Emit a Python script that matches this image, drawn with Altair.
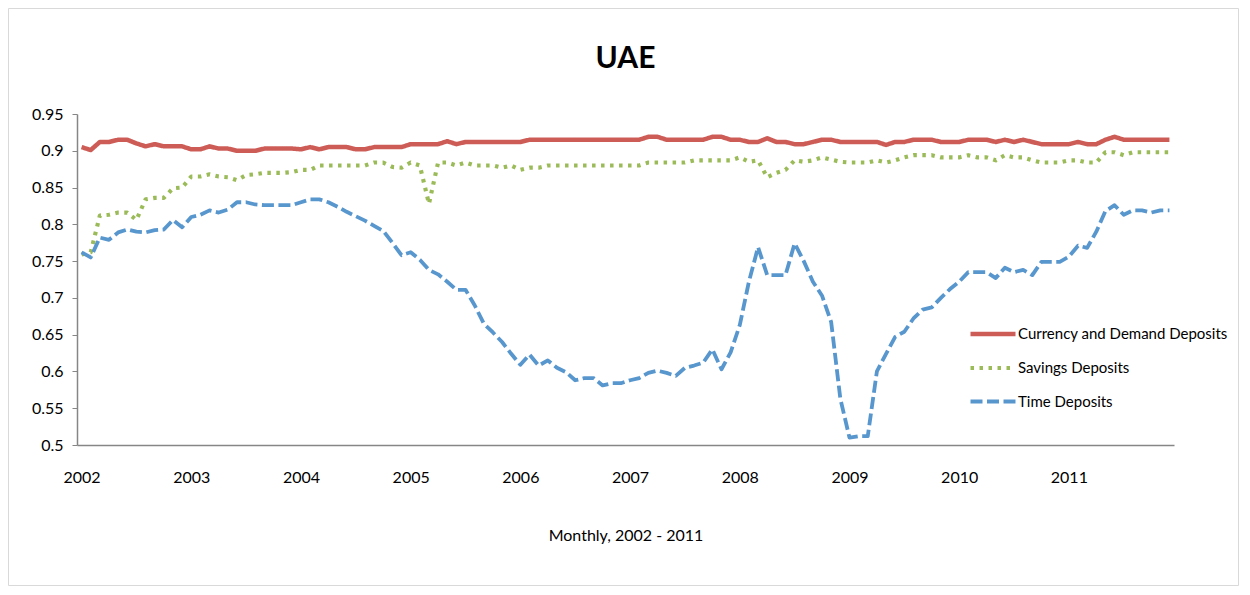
import altair as alt
import pandas as pd

series_names = ["Currency and Demand Deposits", "Savings Deposits", "Time Deposits"]
year_labels = ["2002", "2003", "2004", "2005", "2006", "2007", "2008", "2009", "2010", "2011"]
y_ticks = [0.5, 0.55, 0.6, 0.65, 0.7, 0.75, 0.8, 0.85, 0.9, 0.95]

currency = [
    0.905, 0.901, 0.912, 0.912, 0.915, 0.915, 0.910, 0.906, 0.909, 0.906, 0.906, 0.906,
    0.902, 0.902, 0.906, 0.903, 0.903, 0.900, 0.900, 0.900, 0.903, 0.903, 0.903, 0.903,
    0.902, 0.905, 0.902, 0.905, 0.905, 0.905, 0.902, 0.902, 0.905, 0.905, 0.905, 0.905,
    0.909, 0.909, 0.909, 0.909, 0.913, 0.909, 0.912, 0.912, 0.912, 0.912, 0.912, 0.912,
    0.912, 0.915, 0.915, 0.915, 0.915, 0.915, 0.915, 0.915, 0.915, 0.915, 0.915, 0.915,
    0.915, 0.915, 0.919, 0.919, 0.915, 0.915, 0.915, 0.915, 0.915, 0.919, 0.919, 0.915,
    0.915, 0.912, 0.912, 0.917, 0.912, 0.912, 0.909, 0.909, 0.912, 0.915, 0.915, 0.912,
    0.912, 0.912, 0.912, 0.912, 0.908, 0.912, 0.912, 0.915, 0.915, 0.915, 0.912, 0.912,
    0.912, 0.915, 0.915, 0.915, 0.912, 0.915, 0.912, 0.915, 0.912, 0.909, 0.909, 0.909,
    0.909, 0.912, 0.909, 0.909, 0.915, 0.919, 0.915, 0.915, 0.915, 0.915, 0.915, 0.915,
]

savings = [
    0.759, 0.762, 0.812, 0.813, 0.816, 0.816, 0.806, 0.834, 0.836, 0.836, 0.849, 0.850,
    0.865, 0.865, 0.868, 0.865, 0.864, 0.860, 0.867, 0.868, 0.870, 0.870, 0.870, 0.871,
    0.874, 0.874, 0.880, 0.880, 0.880, 0.880, 0.880, 0.880, 0.884, 0.884, 0.878, 0.877,
    0.884, 0.880, 0.828, 0.884, 0.884, 0.880, 0.884, 0.880, 0.880, 0.880, 0.877, 0.880,
    0.874, 0.877, 0.877, 0.880, 0.880, 0.880, 0.880, 0.880, 0.880, 0.880, 0.880, 0.880,
    0.880, 0.880, 0.884, 0.884, 0.884, 0.884, 0.884, 0.887, 0.887, 0.887, 0.887, 0.887,
    0.891, 0.885, 0.887, 0.864, 0.870, 0.874, 0.887, 0.885, 0.887, 0.891, 0.888, 0.885,
    0.884, 0.884, 0.884, 0.887, 0.884, 0.887, 0.891, 0.894, 0.894, 0.894, 0.891, 0.891,
    0.891, 0.894, 0.891, 0.891, 0.887, 0.894, 0.891, 0.891, 0.887, 0.884, 0.884, 0.884,
    0.887, 0.887, 0.884, 0.884, 0.898, 0.898, 0.894, 0.898, 0.898, 0.898, 0.898, 0.898,
]

time_deposits = [
    0.762, 0.755, 0.782, 0.779, 0.789, 0.793, 0.790, 0.789, 0.792, 0.793, 0.806, 0.796,
    0.810, 0.813, 0.819, 0.816, 0.820, 0.830, 0.830, 0.827, 0.826, 0.826, 0.826, 0.826,
    0.830, 0.834, 0.834, 0.830, 0.824, 0.817, 0.811, 0.805, 0.798, 0.791, 0.775, 0.758,
    0.762, 0.752, 0.738, 0.732, 0.722, 0.711, 0.711, 0.690, 0.665, 0.653, 0.640, 0.624,
    0.609, 0.623, 0.608, 0.615, 0.605, 0.599, 0.588, 0.591, 0.591, 0.581, 0.584, 0.584,
    0.588, 0.591, 0.598, 0.601, 0.598, 0.594, 0.605, 0.608, 0.612, 0.630, 0.603, 0.626,
    0.663, 0.722, 0.769, 0.731, 0.731, 0.731, 0.774, 0.750, 0.722, 0.703, 0.667, 0.563,
    0.510, 0.512, 0.512, 0.600, 0.624, 0.647, 0.654, 0.672, 0.684, 0.687, 0.700, 0.712,
    0.722, 0.735, 0.735, 0.735, 0.727, 0.741, 0.735, 0.738, 0.731, 0.749, 0.749, 0.749,
    0.756, 0.771, 0.768, 0.790, 0.818, 0.826, 0.813, 0.819, 0.819, 0.816, 0.819, 0.819,
]

rows = []
for name, vals in zip(series_names, [currency, savings, time_deposits]):
    for i, v in enumerate(vals):
        rows.append({"month": i, "series": name, "value": v})
df = pd.DataFrame(rows)

FONT = "Lato"
GREY = "#868686"
W, H = 1097, 331

color_scale = alt.Scale(domain=series_names, range=["#CD5C57", "#9BBB59", "#5896CE"])
dash_scale = alt.Scale(domain=series_names, range=[[1, 0], [3.5, 5.5], [12, 4.5]])
width_scale = alt.Scale(domain=series_names, range=[4.5, 3.8, 4.5])

legend = alt.Legend(
    title=None,
    orient="none",
    legendX=891,
    legendY=195,
    padding=0,
    symbolType="stroke",
    symbolSize=2025,
    symbolStrokeWidth=4.2,
    labelFont=FONT,
    labelFontSize=15,
    labelColor="#000000",
    labelLimit=400,
    labelOffset=0,
    rowPadding=-1,
)

lines = alt.Chart(df).mark_line(strokeCap="butt", strokeJoin="round").encode(
    x=alt.X(
        "month:Q",
        scale=alt.Scale(domain=[-0.5, 119.5], nice=False, zero=False),
        axis=alt.Axis(
            title="Monthly, 2002 - 2011",
            values=[i * 12 for i in range(len(year_labels))],
            labelExpr="'' + (2002 + datum.value / 12)",
            grid=False,
            ticks=False,
            labelPadding=24,
            titlePadding=42,
        ),
    ),
    y=alt.Y(
        "value:Q",
        scale=alt.Scale(domain=[0.5, 0.95], nice=False, zero=False),
        axis=alt.Axis(
            title=None,
            values=y_ticks,
            format=".2~f",
            grid=False,
            tickSize=5,
            labelPadding=9,
        ),
    ),
    color=alt.Color("series:N", scale=color_scale, legend=legend, sort=series_names),
    strokeDash=alt.StrokeDash("series:N", scale=dash_scale, legend=legend, sort=series_names),
    strokeWidth=alt.StrokeWidth("series:N", scale=width_scale, legend=None),
    order=alt.Order("month:Q"),
)

border = alt.Chart(alt.Data(values=[{}])).mark_rect(
    fill=None, stroke="#D9D9D9", strokeWidth=1
).encode(
    x=alt.value(-68.5),
    x2=alt.value(W + 64.5),
    y=alt.value(-105.5),
    y2=alt.value(H + 140.5),
)

chart = alt.layer(border, lines).properties(
    width=W,
    height=H,
    autosize=alt.AutoSizeParams(type="none"),
    padding={"left": 69, "top": 106, "right": 68, "bottom": 142},
    title=alt.Title(
        "UAE", font=FONT, fontSize=30, fontWeight="bold", color="#000000",
        anchor="middle", offset=-66,
    ),
).configure_view(stroke=None).configure_axis(
    domainColor=GREY,
    domainWidth=1.5,
    tickColor=GREY,
    labelFont=FONT,
    labelFontSize=16,
    labelColor="#000000",
    titleFont=FONT,
    titleFontSize=16,
    titleFontWeight="normal",
    titleColor="#000000",
)

chart.save("out.html", embed_options={"renderer": "svg", "actions": False})
